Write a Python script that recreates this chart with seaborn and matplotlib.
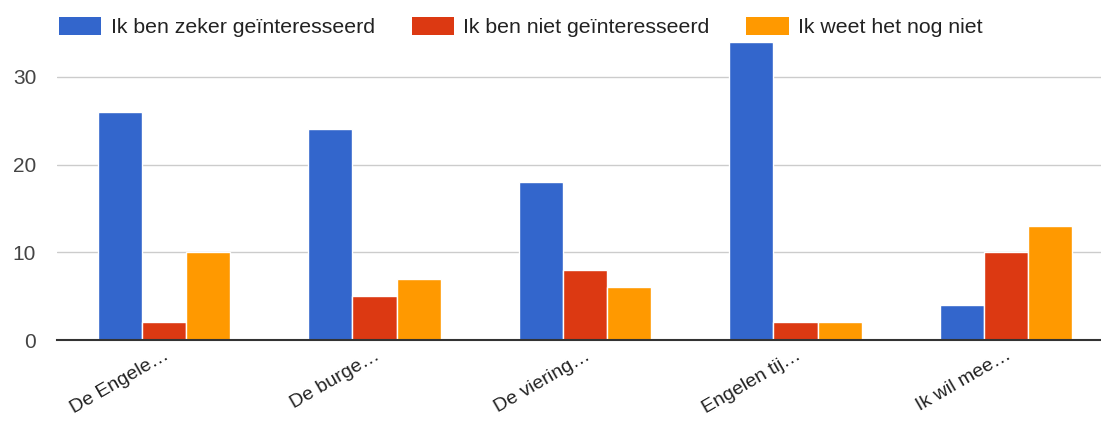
import pandas as pd
import numpy as np

import seaborn as sns
import matplotlib.pyplot as plt
from matplotlib.patches import Patch

# data
categories = ['De Engele…', 'De burge…', 'De viering…', 'Engelen tij…', 'Ik wil mee…']
series_names = ['Ik ben zeker geïnteresseerd', 'Ik ben niet geïnteresseerd', 'Ik weet het nog niet']
zeker = [26, 24, 18, 34, 4]
niet = [2, 5, 8, 2, 10]
weet_niet = [10, 7, 6, 2, 13]
colors = ['#3366CC', '#DC3912', '#FF9900']

df = pd.DataFrame({
    'categorie': categories * 3,
    'antwoord': np.repeat(series_names, len(categories)),
    'aantal': zeker + niet + weet_niet,
})

sns.set_theme(style='white')
plt.rcParams['font.family'] = ['Liberation Sans', 'DejaVu Sans']

fig = plt.figure(figsize=(11.01, 4.21), dpi=100)
ax = fig.add_axes([57 / 1101, 81 / 421, 1044 / 1101, 300 / 421])

sns.barplot(data=df, x='categorie', y='aantal', hue='antwoord',
            palette=colors, width=0.63, gap=0.0, ax=ax,
            edgecolor='white', linewidth=1, legend=False, saturation=1)

ax.set_xlim(-0.508, 4.451)
ax.set_ylim(0, 34.2)
ax.set_yticks([0, 10, 20, 30])
ax.yaxis.grid(True, color='#cccccc', linewidth=1)
ax.set_axisbelow(True)
for s in ['top', 'right', 'left']:
    ax.spines[s].set_visible(False)
ax.spines['bottom'].set_color('#333333')
ax.spines['bottom'].set_linewidth(1.5)
ax.spines['bottom'].set_zorder(5)
ax.set_xlabel('')
ax.set_ylabel('')
ax.tick_params(axis='y', length=0, pad=15, labelsize=15, labelcolor='#444444')
ax.tick_params(axis='x', length=0, pad=5, labelsize=14, labelcolor='#222222')
plt.setp(ax.get_xticklabels(), rotation=30, ha='right', rotation_mode='anchor')

handles = [Patch(facecolor=c, edgecolor='none') for c in colors]
fig.legend(handles, series_names, loc='center left', bbox_to_anchor=(59 / 1101, 1 - 27 / 421),
           ncol=3, frameon=False, fontsize=15.3, handlelength=1.98, handleheight=0.9,
           handletextpad=0.45, columnspacing=1.74, borderpad=0, borderaxespad=0,
           labelcolor='#222222')

fig.savefig('out.png', dpi=100)
